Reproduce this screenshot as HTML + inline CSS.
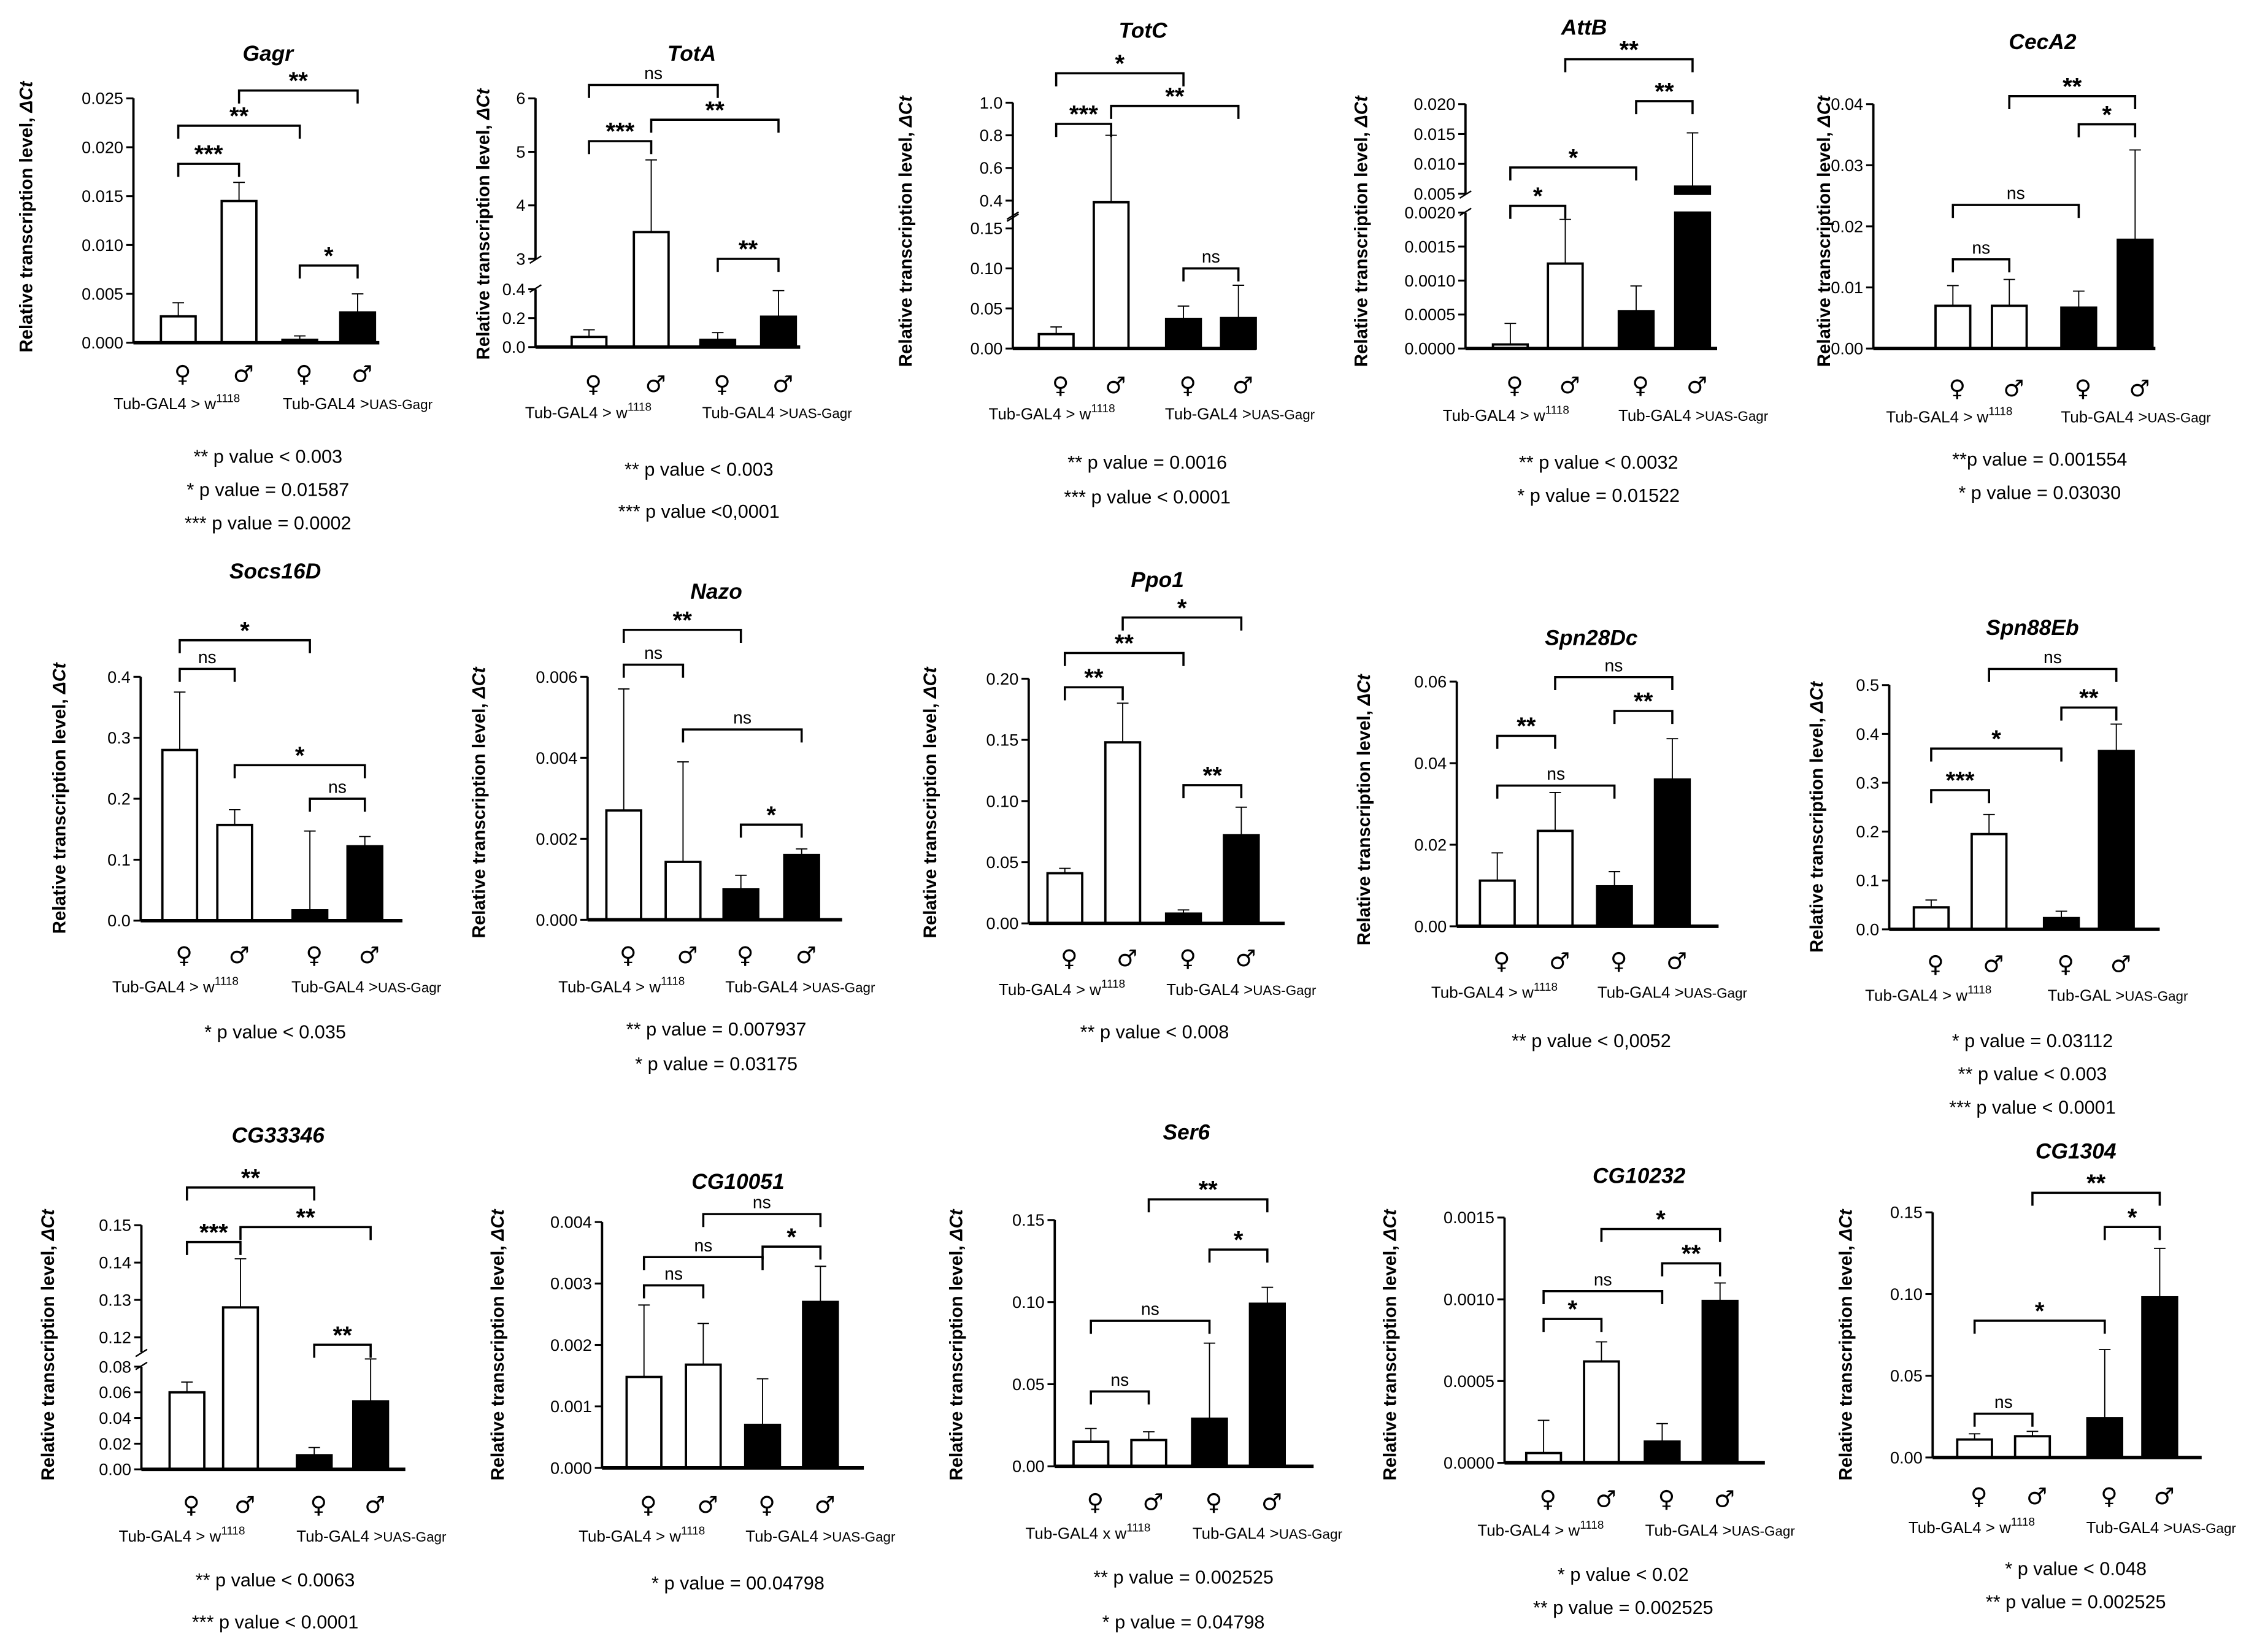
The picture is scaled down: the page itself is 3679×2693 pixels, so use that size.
<!DOCTYPE html>
<html><head><meta charset="utf-8"><style>
html,body{margin:0;padding:0;background:#fff}
svg{display:block}
text{font-family:"Liberation Sans","DejaVu Sans",sans-serif;fill:#000}
</style></head><body>
<svg id="fig" xmlns="http://www.w3.org/2000/svg" width="3679" height="2693" viewBox="0 0 1560 1142.3"></svg>
<script>
const titles=["Gagr","TotA","TotC","AttB","CecA2","Socs16D","Nazo","Ppo1","Spn28Dc","Spn88Eb","CG33346","CG10051","Ser6","CG10232","CG1304"];
const barValues=[[0.0027,0.0145,0.0003,0.0031],[0.07,3.5,0.05,0.21],[0.018,0.39,0.037,0.038],[0.00006,0.00125,0.00055,0.0062],[0.007,0.007,0.0067,0.0178],
[0.28,0.157,0.017,0.122],[0.0027,0.00143,0.00075,0.0016],[0.041,0.148,0.008,0.072],[0.0112,0.0234,0.0098,0.036],[0.045,0.195,0.023,0.365],
[0.06,0.128,0.011,0.053],[0.00148,0.00168,0.0007,0.0027],[0.015,0.016,0.029,0.099],[0.00006,0.00062,0.00013,0.00099],[0.011,0.013,0.024,0.098]];
const barErrors=[[0.0041,0.0164,0.0007,0.005],[0.12,4.85,0.1,0.39],[0.027,0.8,0.053,0.079],[0.00037,0.0019,0.00092,0.0152],[0.0103,0.0113,0.0094,0.0325],
[0.375,0.182,0.147,0.138],[0.0057,0.0039,0.0011,0.00175],[0.045,0.18,0.011,0.095],[0.018,0.0328,0.0134,0.046],[0.06,0.235,0.037,0.42],
[0.068,0.141,0.017,0.086],[0.00265,0.00235,0.00145,0.00328],[0.023,0.021,0.075,0.109],[0.00026,0.00074,0.00024,0.0011],[0.0145,0.016,0.066,0.128]];
const tickValues=[[0,0.005,0.01,0.015,0.02,0.025],[0,0.2,0.4,3,4,5,6],[0,0.05,0.1,0.15,0.4,0.6,0.8,1.0],[0,0.0005,0.001,0.0015,0.002,0.005,0.01,0.015,0.02],[0,0.01,0.02,0.03,0.04],
[0,0.1,0.2,0.3,0.4],[0,0.002,0.004,0.006],[0,0.05,0.1,0.15,0.2],[0,0.02,0.04,0.06],[0,0.1,0.2,0.3,0.4,0.5],
[0,0.02,0.04,0.06,0.08,0.12,0.13,0.14,0.15],[0,0.001,0.002,0.003,0.004],[0,0.05,0.1,0.15],[0,0.0005,0.001,0.0015],[0,0.05,0.1,0.15]];
const tickLabels=[["0.000","0.005","0.010","0.015","0.020","0.025"],["0.0","0.2","0.4","3","4","5","6"],["0.00","0.05","0.10","0.15","0.4","0.6","0.8","1.0"],["0.0000","0.0005","0.0010","0.0015","0.0020","0.005","0.010","0.015","0.020"],["0.00","0.01","0.02","0.03","0.04"],
["0.0","0.1","0.2","0.3","0.4"],["0.000","0.002","0.004","0.006"],["0.00","0.05","0.10","0.15","0.20"],["0.00","0.02","0.04","0.06"],["0.0","0.1","0.2","0.3","0.4","0.5"],
["0.00","0.02","0.04","0.06","0.08","0.12","0.13","0.14","0.15"],["0.000","0.001","0.002","0.003","0.004"],["0.00","0.05","0.10","0.15"],["0.0000","0.0005","0.0010","0.0015"],["0.00","0.05","0.10","0.15"]];
const bracketPairs=[[[0,1],[0,2],[1,3],[2,3]],[[0,1],[0,2],[1,3],[2,3]],[[0,2],[0,1],[1,3],[2,3]],[[0,1],[0,2],[2,3],[1,3]],[[0,1],[0,2],[2,3],[1,3]],
[[0,1],[0,2],[1,3],[2,3]],[[0,1],[0,2],[1,3],[2,3]],[[0,1],[0,2],[1,3],[2,3]],[[0,1],[0,2],[2,3],[1,3]],[[0,1],[0,2],[2,3],[1,3]],
[[0,2],[0,1],[1,3],[2,3]],[[0,1],[0,2],[2,3],[1,3]],[[0,1],[0,2],[2,3],[1,3]],[[0,1],[0,2],[2,3],[1,3]],[[0,1],[0,2],[2,3],[1,3]]];
const bracketLevels=[[0.0183,0.0222,0.0258,0.0079],[5.2,6.25,5.6,3.0],[1.18,0.87,0.98,0.1],[0.0021,0.0094,0.0205,0.0275],[0.0146,0.0235,0.0367,0.0413],
[0.413,0.46,0.255,0.2],[0.0063,0.00716,0.0047,0.00235],[0.193,0.221,0.25,0.113],[0.0467,0.0345,0.0528,0.0611],[0.285,0.37,0.454,0.533],
[0.1601,0.1455,0.1495,0.118],[0.00297,0.00343,0.0036,0.00413],[0.0456,0.0886,0.132,0.1626],[0.00088,0.00105,0.00122,0.00143],[0.0268,0.0837,0.141,0.162]];
const bracketLabels=[["***","**","**","*"],["***","ns","**","**"],["*","***","**","ns"],["*","*","**","**"],["ns","ns","*","**"],
["ns","*","*","ns"],["ns","**","ns","*"],["**","**","*","**"],["**","ns","**","ns"],["***","*","**","ns"],
["**","***","**","**"],["ns","ns","*","ns"],["ns","ns","*","**"],["*","ns","**","*"],["ns","*","*","**"]];
const footnotes=[["** p value < 0.003","* p value = 0.01587","*** p value = 0.0002"],["** p value < 0.003","*** p value <0,0001"],["** p value = 0.0016","*** p value < 0.0001"],["** p value < 0.0032","* p value = 0.01522"],["**p value = 0.001554","* p value = 0.03030"],
["* p value < 0.035"],["** p value =  0.007937","* p value = 0.03175"],["** p value < 0.008"],["** p value < 0,0052"],["* p value = 0.03112","** p value < 0.003","*** p value < 0.0001"],
["** p value < 0.0063","*** p value < 0.0001"],["* p value = 00.04798"],["** p value = 0.002525","* p value = 0.04798"],["* p value <  0.02","** p value = 0.002525"],["* p value <   0.048","** p value = 0.002525"]];
const leftGroupNames=["Tub-GAL4 > w","Tub-GAL4 > w","Tub-GAL4 > w","Tub-GAL4 > w","Tub-GAL4 > w","Tub-GAL4 > w","Tub-GAL4 > w","Tub-GAL4 > w","Tub-GAL4 > w","Tub-GAL4 > w","Tub-GAL4 > w","Tub-GAL4 > w","Tub-GAL4 x w","Tub-GAL4 > w","Tub-GAL4 > w"];
const rightGroupNames=["Tub-GAL4 >UAS-Gagr","Tub-GAL4 >UAS-Gagr","Tub-GAL4 >UAS-Gagr","Tub-GAL4 >UAS-Gagr","Tub-GAL4 >UAS-Gagr","Tub-GAL4 >UAS-Gagr","Tub-GAL4 >UAS-Gagr","Tub-GAL4 >UAS-Gagr","Tub-GAL4 >UAS-Gagr","Tub-GAL >UAS-Gagr","Tub-GAL4 >UAS-Gagr","Tub-GAL4 >UAS-Gagr","Tub-GAL4 >UAS-Gagr","Tub-GAL4 >UAS-Gagr","Tub-GAL4 >UAS-Gagr"];
const barFills=["#fff","#fff","#000","#000"];

// layout (pixel geometry, not data)
const L=[
{ax:92,ae:262,cx:[123,165,207,247],seg:[[0,0.025,237,68]],tt:[185,42],yt:[22,150],sx:258,gl:283,fx:185,fy:[320,343,366]},
{ax:370,ae:553,cx:[407,450,496,538],seg:[[0,0.4,240,200],[3,6,179,68]],tt:[478,42],yt:[338,155],sx:265,gl:289,fx:483,fy:[329,358]},
{ax:700,ae:868,cx:[730,768,818,856],seg:[[0,0.165,241,149.6],[0.3,1.0,150,71]],tt:[790,26],yt:[630,160],sx:266,gl:290,fx:793,fy:[324,348]},
{ax:1013,ae:1187,cx:[1044,1082,1131,1170],seg:[[0,0.002,241,147],[0.005,0.02,134,72]],tt:[1095,24],yt:[945,160],sx:266,gl:291,fx:1105,fy:[324,347]},
{ax:1295,ae:1490,cx:[1350,1389,1437,1476],seg:[[0,0.04,241,72]],tt:[1412,34],yt:[1265,160],sx:268,gl:292,fx:1410,fy:[322,345]},
{ax:97,ae:278,cx:[124,162,214,252],seg:[[0,0.4,636.6,468]],tt:[190,400],yt:[45,552],sx:660,gl:686,fx:190,fy:[718]},
{ax:406,ae:582,cx:[431,472,512,554],seg:[[0,0.006,636,468]],tt:[495,414],yt:[335,555],sx:660,gl:686,fx:495,fy:[716,740]},
{ax:711,ae:888,cx:[736,776,818,858],seg:[[0,0.2,638.5,469.3]],tt:[800,406],yt:[647,555],sx:662,gl:688,fx:798,fy:[718]},
{ax:1007,ae:1188,cx:[1035,1075,1116,1156],seg:[[0,0.06,640.5,471.3]],tt:[1100,446],yt:[947,560],sx:664,gl:690,fx:1100,fy:[724]},
{ax:1306,ae:1493,cx:[1335,1375,1425,1463],seg:[[0,0.5,642.6,473.7]],tt:[1405,439],yt:[1260,565],sx:666,gl:692,fx:1405,fy:[724,747,770]},
{ax:97.5,ae:280,cx:[129,166,217,256],seg:[[0,0.08,1016,945],[0.116,0.15,935,847.2]],tt:[192,790],yt:[37,930],sx:1040,gl:1066,fx:190,fy:[1097,1126]},
{ax:416,ae:597,cx:[445,486,527,567],seg:[[0,0.004,1015,845]],tt:[510,822],yt:[348,930],sx:1040,gl:1066,fx:510,fy:[1099]},
{ax:729,ae:908,cx:[754,794,836,876],seg:[[0,0.15,1013.9,843.6]],tt:[820,788],yt:[665,930],sx:1038,gl:1064,fx:818,fy:[1095,1126]},
{ax:1040,ae:1220,cx:[1067,1107,1149,1189],seg:[[0,0.0015,1011.5,841.9]],tt:[1133,818],yt:[965,930],sx:1036,gl:1062,fx:1122,fy:[1093,1116]},
{ax:1336,ae:1522,cx:[1365,1405,1455,1493],seg:[[0,0.15,1007.8,838.3]],tt:[1435,801],yt:[1280,930],sx:1034,gl:1060,fx:1435,fy:[1089,1112]}];

const NS="http://www.w3.org/2000/svg";
const svg=document.getElementById('fig');
function mk(tag,attrs,parent,txt){const e=document.createElementNS(NS,tag);for(const k in attrs)e.setAttribute(k,attrs[k]);if(txt!==undefined)e.textContent=txt;parent.appendChild(e);return e;}
function scaleFor(seg){return function(v){let s=seg[0];if(seg.length>1&&v>=seg[1][0])s=seg[1];return s[2]+(v-s[0])/(s[1]-s[0])*(s[3]-s[2]);};}

L.forEach((p,i)=>{
  const g=mk('g',{},svg);
  
  
  const y=scaleFor(p.seg);
  const y0=y(0);
  const t=mk('text',{x:p.tt[0],y:p.tt[1],'text-anchor':'middle','font-size':15,'font-weight':'bold','font-style':'italic'},g,titles[i]);
  
  
  const yt=mk('text',{x:0,y:0,'text-anchor':'middle','font-size':12.5,'font-weight':'bold',transform:`translate(${p.yt[0]},${p.yt[1]}) rotate(-90)`},g);
  
  
  mk('tspan',{},yt,'Relative transcription level, ');
  mk('tspan',{'font-style':'italic'},yt,'\u0394Ct');
  p.cx.forEach((c,k)=>{
    const v=barValues[i][k],e=barErrors[i][k],w=24;
    const bg=mk('g',{},g);
    
    
    const el=mk('line',{x1:c,x2:c,y1:y(v),y2:y(e),stroke:'#000','stroke-width':0.8},bg);
    
    
    mk('line',{x1:c-4,x2:c+4,y1:y(e),y2:y(e),stroke:'#000','stroke-width':0.8},bg);
    if(barFills[k]==='#fff'){
      const r=mk('rect',{x:c-w/2,y:y(v),width:w,height:y0-y(v),fill:'#fff',stroke:'#000','stroke-width':1.6},bg);
      
      
      return;
    }
    p.seg.forEach((s,si)=>{
      if(v<=s[0]&&si>0)return;
      const top=si===p.seg.length-1?v:Math.min(v,s[1]);
      const yb=si===0?y0:y(s[0]);
      const ytp=si===0?(v<=s[1]?y(v):s[3]):y(top);
      const r=mk('rect',{x:c-w/2,y:Math.min(ytp,yb),width:w,height:Math.abs(yb-ytp),fill:barFills[k],stroke:'#000','stroke-width':1.6},bg);
      
      
    });
  });
  const ya=mk('g',{},g);
  
  
  p.seg.forEach(s=>{mk('line',{x1:p.ax,x2:p.ax,y1:s[2],y2:s[3],stroke:'#000','stroke-width':1.6},ya);});
  if(p.seg.length>1){const b=p.seg[0][3],a=p.seg[1][2];mk('line',{x1:p.ax-4,x2:p.ax+4,y1:b+2,y2:b-3,stroke:'#000','stroke-width':1},ya);mk('line',{x1:p.ax-4,x2:p.ax+4,y1:a+3,y2:a-2,stroke:'#000','stroke-width':1},ya);}
  tickValues[i].forEach((tv,k)=>{
    const ty=y(tv);
    mk('line',{x1:p.ax-5,x2:p.ax,y1:ty,y2:ty,stroke:'#000','stroke-width':1.3},ya);
    const tl=mk('text',{x:p.ax-7,y:ty+4,'text-anchor':'end','font-size':11.5},ya,tickLabels[i][k]);
    
    
  });
  const xa=mk('line',{x1:p.ax,x2:p.ae,y1:y0,y2:y0,stroke:'#000','stroke-width':2.4},g);
  
  
  bracketPairs[i].forEach((bp,k)=>{
    const by=y(bracketLevels[i][k]),x1=p.cx[bp[0]],x2=p.cx[bp[1]];
    const bgp=mk('g',{},g);
    
    
    mk('path',{d:`M${x1},${by+9}V${by}H${x2}V${by+9}`,fill:'none',stroke:'#000','stroke-width':1.5},bgp);
    const lab=bracketLabels[i][k];
    const star=lab!=='ns';
    mk('text',{x:(x1+x2)/2,y:by-(star?1:4),'text-anchor':'middle','font-size':star?17:12,'font-weight':star?'bold':'normal'},bgp,lab);
  });
  const syms=['\u2640','\u2642','\u2640','\u2642'];
  p.cx.forEach((c,k)=>{
    const s=mk('text',{x:c+3,y:p.sx+6,'text-anchor':'middle','font-size':16,style:'font-family:"DejaVu Sans",sans-serif'},g,syms[k]);
    
    
  });
  const lc=(p.cx[0]+p.cx[1])/2-22, rc=(p.cx[2]+p.cx[3])/2+20;
  const gl1=mk('text',{x:lc,y:p.gl,'text-anchor':'middle','font-size':11,fill:'#222'},g);
  
  
  mk('tspan',{},gl1,leftGroupNames[i]);
  mk('tspan',{'font-size':8,dy:-5},gl1,'1118');
  const gl2=mk('text',{x:rc,y:p.gl,'text-anchor':'middle','font-size':11,fill:'#222'},g);
  
  
  mk('tspan',{},gl2,rightGroupNames[i].replace('UAS-Gagr',''));
  mk('tspan',{'font-size':9.5},gl2,'UAS-Gagr');
  footnotes[i].forEach((f,k)=>{
    const ft=mk('text',{x:p.fx,y:p.fy[k],'text-anchor':'middle','font-size':13},g,f);
    
    
  });
});
</script>
</body></html>
